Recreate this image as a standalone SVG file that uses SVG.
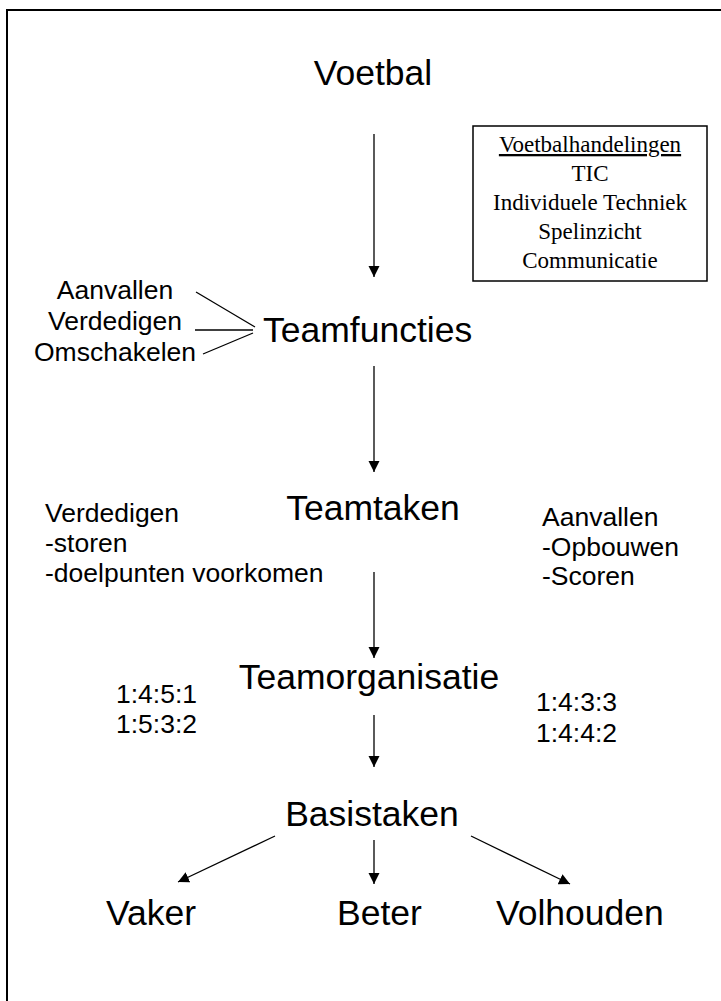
<svg xmlns="http://www.w3.org/2000/svg" width="721" height="1001" viewBox="0 0 721 1001">
<style>
.t{font-family:"Liberation Sans",Arial,sans-serif;fill:#000}
.big{font-size:35.5px}
.mid{font-size:26.5px}
.ser{font-family:"Liberation Serif","Times New Roman",serif;font-size:23px;fill:#000;text-anchor:middle}
.c{stroke:#000;stroke-width:1.3;fill:none}
.a{marker-end:url(#ah)}
</style>
<defs>
<marker id="ah" markerUnits="userSpaceOnUse" markerWidth="12" markerHeight="12" refX="11" refY="6" orient="auto">
<path d="M0,0.5 L11,6 L0,11.5 z" fill="#000"/>
</marker>
</defs>
<rect width="721" height="1001" fill="#fff"/>
<path d="M7,1001 V10 H721" fill="none" stroke="#000" stroke-width="2"/>
<g id="voetbal"><text class="t big" x="373" y="85" text-anchor="middle" font-size="37">Voetbal</text></g>
<g id="handelingen">
<rect x="473" y="126" width="234" height="155" fill="#fff" stroke="#000" stroke-width="1.5"/>
<text class="ser" x="590" y="152" text-decoration="underline">Voetbalhandelingen</text>
<text class="ser" x="590" y="181">TIC</text>
<text class="ser" x="590" y="210">Individuele Techniek</text>
<text class="ser" x="590" y="239">Spelinzicht</text>
<text class="ser" x="590" y="268">Communicatie</text>
</g>
<g id="functies-sub">
<text class="t mid" x="115" y="299" text-anchor="middle">Aanvallen</text>
<text class="t mid" x="115" y="330" text-anchor="middle">Verdedigen</text>
<text class="t mid" x="115" y="361" text-anchor="middle">Omschakelen</text>
</g>
<g id="teamfuncties"><text class="t big" x="263" y="342">Teamfuncties</text></g>
<g id="teamtaken"><text class="t big" x="373" y="520" text-anchor="middle">Teamtaken</text></g>
<g id="verdedigen">
<text class="t mid" x="45" y="522">Verdedigen</text>
<text class="t mid" x="45" y="552">-storen</text>
<text class="t mid" x="45" y="582">-doelpunten voorkomen</text>
</g>
<g id="aanvallen">
<text class="t mid" x="542" y="526">Aanvallen</text>
<text class="t mid" x="542" y="556">-Opbouwen</text>
<text class="t mid" x="542" y="585">-Scoren</text>
</g>
<g id="teamorganisatie"><text class="t big" x="369" y="689" text-anchor="middle">Teamorganisatie</text></g>
<g id="sys-left">
<text class="t mid" x="116" y="703">1:4:5:1</text>
<text class="t mid" x="116" y="733">1:5:3:2</text>
</g>
<g id="sys-right">
<text class="t mid" x="536" y="711">1:4:3:3</text>
<text class="t mid" x="536" y="742">1:4:4:2</text>
</g>
<g id="basistaken"><text class="t big" x="372" y="826" text-anchor="middle">Basistaken</text></g>
<g id="vaker"><text class="t big" x="106" y="925">Vaker</text></g>
<g id="beter"><text class="t big" x="337" y="925">Beter</text></g>
<g id="volhouden"><text class="t big" x="496" y="925" font-size="37">Volhouden</text></g>
<g id="connectors">
<line class="c a" x1="374" y1="134" x2="374" y2="277"/>
<line class="c a" x1="374" y1="366" x2="374" y2="472"/>
<line class="c a" x1="374" y1="572" x2="374" y2="658"/>
<line class="c a" x1="374" y1="715" x2="374" y2="767"/>
<line class="c a" x1="275" y1="836" x2="178" y2="882"/>
<line class="c a" x1="374" y1="840" x2="374" y2="884"/>
<line class="c a" x1="471" y1="836" x2="570" y2="884"/>
<line class="c" x1="196" y1="292" x2="255" y2="327"/>
<line class="c" x1="195" y1="330" x2="253" y2="330"/>
<line class="c" x1="203" y1="354" x2="253" y2="333"/>
</g>
</svg>
